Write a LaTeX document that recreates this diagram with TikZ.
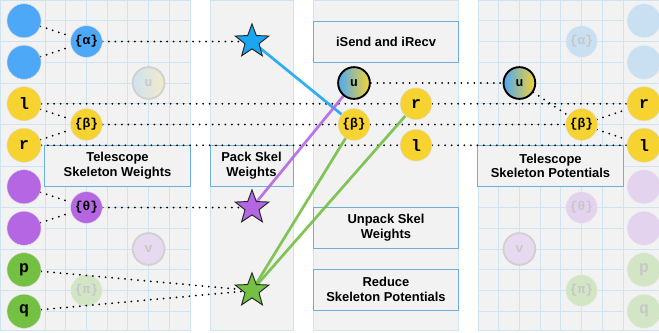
\documentclass[tikz,border=0pt]{standalone}
\usepackage{fontspec}
\setmainfont{Liberation Sans}
\setmonofont{Liberation Mono}
\usetikzlibrary{shapes.geometric}

\definecolor{panelgray}{HTML}{F2F2F2}
\definecolor{gridblue}{HTML}{CFE4F1}
\definecolor{boxblue}{HTML}{6BB0D8}
\definecolor{nodeblue}{HTML}{4DA9F7}
\definecolor{nodeyellow}{HTML}{F6D330}
\definecolor{nodepurple}{HTML}{B466E3}
\definecolor{nodegreen}{HTML}{73C043}
\definecolor{starblue}{HTML}{1AA6F2}

\pgfdeclarelayer{back}
\pgfdeclarelayer{wires}
\pgfsetlayers{back,wires,main}

\tikzset{
  dot/.style={circle, minimum size=27pt, inner sep=0pt, draw=black!12, line width=0.4pt,
    font=\ttfamily\bfseries\fontsize{11}{11}\selectfont},
  leaf/.style={dot, minimum size=29pt, font=\ttfamily\bfseries\fontsize{14}{14}\selectfont},
  ghost/.style={text=black!22, draw=black!6},
  lbox/.style={draw=boxblue, fill=panelgray, line width=0.8pt, inner sep=0pt, align=center,
    minimum height=34.85pt, font=\bfseries\fontsize{11}{12.5}\selectfont},
  widebox/.style={lbox, minimum width=123.6pt},
  panel/.style={fill=panelgray, draw=gridblue, line width=0.6pt},
  dotline/.style={line width=1.7pt, dash pattern=on 0pt off 5.5pt, line cap=round},
  sketch/.style={line width=2.3pt, line cap=round, opacity=0.9},
  starnode/.style={star, star points=5, star point ratio=2.4, minimum size=30pt,
    inner sep=0pt, draw=black!85, line width=0.8pt}
}

\begin{document}
\begin{tikzpicture}[x=0.85pt, y=-0.85pt]
  \useasboundingbox (0,0) rectangle (659,332);

  \begin{pgfonlayer}{back}
    % panels
    \draw[panel] (0.3,0.3) rectangle (190,330);
    \draw[panel] (210,0.3) rectangle (293,330);
    \draw[panel] (313,0.3) rectangle (458,330);
    \draw[panel] (478,0.3) rectangle (665,330);
    % grids
    \foreach \ox in {45,478} {
      \foreach \k in {0,...,7}
        \draw[gridblue, line width=0.6pt] ({\ox+20.71*\k},0) -- ({\ox+20.71*\k},330);
      \foreach \k in {1,...,15}
        \draw[gridblue, line width=0.6pt] (\ox,{20.75*\k}) -- ({\ox+145},{20.75*\k});
    }
    \foreach \ox in {0,623} {
      \foreach \k in {1,...,7}
        \draw[gridblue, line width=0.6pt] (\ox,{41.5*\k}) -- ({\ox+45},{41.5*\k});
    }
    % label boxes
    \node[widebox] (telw) at (117.5,165.75) {Telescope\\Skeleton Weights};
    \node[lbox, minimum width=70.55pt] (pack) at (251.5,165.75) {Pack Skel\\Weights};
    \node[widebox] (telp) at (550.5,165.75) {Telescope\\Skeleton Potentials};
    \node[widebox] (isend) at (386,41.5) {iSend and iRecv};
    \node[widebox] (unpack) at (386,227.75) {Unpack Skel\\Weights};
    \node[widebox] (reduce) at (386,289.5) {Reduce\\Skeleton Potentials};
    % faded nodes
    \node[dot, ghost, left color=nodeblue!22!panelgray, right color=nodeyellow!22!panelgray,
      draw=black!18, line width=1.6pt] (lu) at (148.6,83) {u};
    \node[dot, ghost, fill=nodepurple!18!panelgray, draw=black!18, line width=1.6pt] (lv) at (148.6,249) {v};
    \node[dot, ghost, fill=nodegreen!25!panelgray] (lpi) at (86.4,290.5) {\{π\}};
    \node[dot, ghost, fill=nodepurple!18!panelgray, draw=black!18, line width=1.6pt] (rv) at (519.4,249) {v};
    \node[dot, ghost, fill=nodeblue!25!panelgray] (ralpha) at (581.6,41.5) {\{α\}};
    \node[dot, ghost, fill=nodepurple!22!panelgray] (rtheta) at (581.6,207.5) {\{θ\}};
    \node[dot, ghost, fill=nodegreen!25!panelgray] (rpi) at (581.6,290.5) {\{π\}};
    \node[leaf, ghost, fill=nodeblue!25!panelgray] (rb1) at (644,20.75) {};
    \node[leaf, ghost, fill=nodeblue!25!panelgray] (rb2) at (644,62.25) {};
    \node[leaf, ghost, fill=nodepurple!22!panelgray] (rp1) at (644,186.75) {};
    \node[leaf, ghost, fill=nodepurple!22!panelgray] (rp2) at (644,228.25) {};
    \node[leaf, ghost, fill=nodegreen!25!panelgray] (rp) at (644,269.75) {p};
    \node[leaf, ghost, fill=nodegreen!25!panelgray] (rq) at (644,311.25) {q};
  \end{pgfonlayer}

  % left column
  \node[leaf, fill=nodeblue] (lb1) at (24,20.75) {};
  \node[leaf, fill=nodeblue] (lb2) at (24,62.25) {};
  \node[leaf, fill=nodeyellow] (ll) at (24,103.75) {l};
  \node[leaf, fill=nodeyellow] (lr) at (24,145.25) {r};
  \node[leaf, fill=nodepurple] (lp1) at (24,186.75) {};
  \node[leaf, fill=nodepurple] (lp2) at (24,228.25) {};
  \node[leaf, fill=nodegreen] (lp) at (24,269.75) {p};
  \node[leaf, fill=nodegreen] (lq) at (24,311.25) {q};

  % left inner nodes
  \node[dot, fill=nodeblue] (lalpha) at (86.4,41.5) {\{α\}};
  \node[dot, fill=nodeyellow] (lbeta) at (86.4,124.5) {\{β\}};
  \node[dot, fill=nodepurple] (ltheta) at (86.4,207.5) {\{θ\}};

  % stars
  \node[starnode, fill=starblue] (bstar) at (252,41.5) {};
  \node[starnode, fill=nodepurple] (pstar) at (252,207.5) {};
  \node[starnode, fill=nodegreen] (gstar) at (252,290.5) {};

  % middle
  \node[dot, left color=nodeblue, right color=nodeyellow, draw=black, line width=1.6pt] (mu) at (354,83) {u};
  \node[dot, fill=nodeyellow] (mbeta) at (354,124.5) {\{β\}};
  \node[dot, fill=nodeyellow, font=\ttfamily\bfseries\fontsize{14}{14}\selectfont] (mr) at (416,103.75) {r};
  \node[dot, fill=nodeyellow, font=\ttfamily\bfseries\fontsize{14}{14}\selectfont] (ml) at (416,145.25) {l};

  % right
  \node[dot, left color=nodeblue, right color=nodeyellow, draw=black, line width=1.6pt] (ru) at (519.4,83) {u};
  \node[dot, fill=nodeyellow] (rbeta) at (581.6,124.5) {\{β\}};
  \node[leaf, fill=nodeyellow] (rr) at (644,103.75) {r};
  \node[leaf, fill=nodeyellow] (rl) at (644,145.25) {l};

  \begin{pgfonlayer}{wires}
    \draw[dotline] (lb1) -- (lalpha);
    \draw[dotline] (lb2) -- (lalpha);
    \draw[dotline] (lalpha) -- (bstar);
    \draw[dotline] (ll) -- (lbeta);
    \draw[dotline] (lr) -- (lbeta);
    \draw[dotline] (ll) -- (mr);
    \draw[dotline] (mr) -- (rr);
    \draw[dotline] (lbeta) -- (mbeta);
    \draw[dotline] (mbeta) -- (rbeta);
    \draw[dotline] (lr) -- (ml);
    \draw[dotline] (ml) -- (rl);
    \draw[dotline] (lp1) -- (ltheta);
    \draw[dotline] (lp2) -- (ltheta);
    \draw[dotline] (ltheta) -- (pstar);
    \draw[dotline] (lp) -- (gstar);
    \draw[dotline] (lq) -- (gstar);
    \draw[dotline] (mu) -- (ru);
    \draw[dotline] (ru) -- (rbeta);
    \draw[dotline] (rbeta) -- (rr);
    \draw[dotline] (rbeta) -- (rl);
    % sketchy transfers
    \draw[sketch, starblue] (bstar.center) -- (mbeta.center);
    \draw[sketch, nodepurple] (pstar.center) -- (mu.center);
    \draw[sketch, nodegreen] (gstar.center) -- (mbeta.center);
    \draw[sketch, nodegreen] (gstar.center) -- (mr.center);
  \end{pgfonlayer}
\end{tikzpicture}
\end{document}
